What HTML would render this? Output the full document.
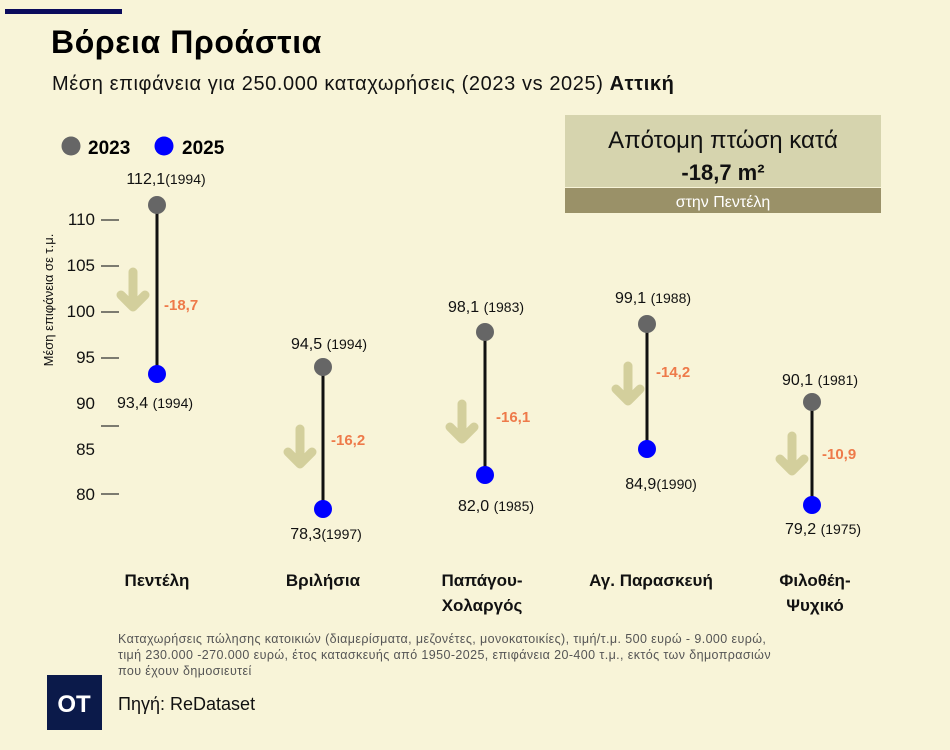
<!DOCTYPE html>
<html><head><meta charset="utf-8"><style>
body{margin:0;background:#f8f4d8;}
svg{display:block;font-family:"Liberation Sans","DejaVu Sans",sans-serif;}
</style></head><body>
<svg width="950" height="750" viewBox="0 0 950 750" xmlns="http://www.w3.org/2000/svg">
<rect width="950" height="750" fill="#f8f4d8"/>
<rect x="5" y="9" width="117" height="5" fill="#0b0b5c"/>
<text x="51" y="53" font-size="32" font-weight="bold" fill="#000" letter-spacing="0.6">Βόρεια Προάστια</text>
<text x="52" y="90" font-size="20" fill="#111" letter-spacing="0.6">Μέση επιφάνεια για 250.000 καταχωρήσεις (2023 vs 2025) <tspan font-weight="bold">Αττική</tspan></text>
<circle cx="71" cy="146" r="9.5" fill="#666"/>
<text x="88" y="154" font-size="19" font-weight="bold">2023</text>
<circle cx="164" cy="146" r="9.5" fill="#0000ff"/>
<text x="182" y="154" font-size="19" font-weight="bold">2025</text>
<rect x="565" y="115" width="316" height="72" fill="#d6d4ae"/>
<rect x="565" y="188" width="316" height="25" fill="#9a9168"/>
<text x="723" y="148" font-size="24" text-anchor="middle" fill="#111">Απότομη πτώση κατά</text>
<text x="723" y="180" font-size="22" font-weight="bold" text-anchor="middle" fill="#111">-18,7 m²</text>
<text x="723" y="207" font-size="16" text-anchor="middle" fill="#fff">στην Πεντέλη</text>
<text transform="translate(53,300) rotate(-90)" font-size="13" text-anchor="middle" fill="#111">Μέση επιφάνεια σε τ.μ.</text>
<g font-size="17" fill="#111" text-anchor="end">
<text x="95" y="225">110</text><text x="95" y="271">105</text><text x="95" y="317">100</text>
<text x="95" y="363">95</text><text x="95" y="409">90</text><text x="95" y="455">85</text><text x="95" y="500">80</text>
</g>
<g stroke="#333" stroke-width="1.2">
<line x1="101" y1="220" x2="119" y2="220"/><line x1="101" y1="266" x2="119" y2="266"/>
<line x1="101" y1="312" x2="119" y2="312"/><line x1="101" y1="358" x2="119" y2="358"/>
<line x1="101" y1="426" x2="119" y2="426"/><line x1="101" y1="494" x2="119" y2="494"/>
</g>
<g fill="none" stroke="#d3cf9c" stroke-width="9" stroke-linecap="round" stroke-linejoin="round">
<path d="M133 272 V306 M121 295 L133 307 L145 295"/>
<path d="M300 429 V463 M288 452 L300 464 L312 452"/>
<path d="M462 404 V438 M450 427 L462 439 L474 427"/>
<path d="M628 366 V400 M616 389 L628 401 L640 389"/>
<path d="M792 436 V470 M780 459 L792 471 L804 459"/>
</g>
<g stroke="#111" stroke-width="3">
<line x1="157" y1="205" x2="157" y2="374"/>
<line x1="323" y1="367" x2="323" y2="509"/>
<line x1="485" y1="332" x2="485" y2="475"/>
<line x1="647" y1="324" x2="647" y2="449"/>
<line x1="812" y1="402" x2="812" y2="505"/>
</g>
<g fill="#666">
<circle cx="157" cy="205" r="9"/><circle cx="323" cy="367" r="9"/><circle cx="485" cy="332" r="9"/><circle cx="647" cy="324" r="9"/><circle cx="812" cy="402" r="9"/>
</g>
<g fill="#0000ff">
<circle cx="157" cy="374" r="9"/><circle cx="323" cy="509" r="9"/><circle cx="485" cy="475" r="9"/><circle cx="647" cy="449" r="9"/><circle cx="812" cy="505" r="9"/>
</g>
<g font-size="15" font-weight="bold" fill="#ee7a4a">
<text x="164" y="310">-18,7</text><text x="331" y="445">-16,2</text><text x="496" y="422">-16,1</text><text x="656" y="377">-14,2</text><text x="822" y="459">-10,9</text>
</g>
<g font-size="16" fill="#111" text-anchor="middle">
<text x="166" y="184">112,1<tspan font-size="14">(1994)</tspan></text>
<text x="329" y="349">94,5 <tspan font-size="14">(1994)</tspan></text>
<text x="486" y="312">98,1 <tspan font-size="14">(1983)</tspan></text>
<text x="653" y="303">99,1 <tspan font-size="14">(1988)</tspan></text>
<text x="820" y="385">90,1 <tspan font-size="14">(1981)</tspan></text>
<text x="155" y="408">93,4 <tspan font-size="14">(1994)</tspan></text>
<text x="326" y="539">78,3<tspan font-size="14">(1997)</tspan></text>
<text x="496" y="511">82,0 <tspan font-size="14">(1985)</tspan></text>
<text x="661" y="489">84,9<tspan font-size="14">(1990)</tspan></text>
<text x="823" y="534">79,2 <tspan font-size="14">(1975)</tspan></text>
</g>
<g font-size="17" font-weight="bold" fill="#111" text-anchor="middle">
<text x="157" y="586">Πεντέλη</text>
<text x="323" y="586">Βριλήσια</text>
<text x="482" y="586">Παπάγου-</text><text x="482" y="611">Χολαργός</text>
<text x="651" y="586">Αγ. Παρασκευή</text>
<text x="815" y="586">Φιλοθέη-</text><text x="815" y="611">Ψυχικό</text>
</g>
<g font-size="12.5" fill="#555" letter-spacing="0.4">
<text x="118" y="643">Καταχωρήσεις πώλησης κατοικιών (διαμερίσματα, μεζονέτες, μονοκατοικίες), τιμή/τ.μ.  500 ευρώ - 9.000 ευρώ,</text>
<text x="118" y="659">τιμή 230.000 -270.000 ευρώ, έτος κατασκευής από 1950-2025, επιφάνεια 20-400 τ.μ., εκτός των δημοπρασιών</text>
<text x="118" y="675">που έχουν δημοσιευτεί</text>
</g>
<rect x="47" y="675" width="55" height="55" fill="#0b1a4a"/>
<text x="74" y="712" font-size="24" font-weight="bold" fill="#fff" text-anchor="middle">OT</text>
<text x="118" y="710" font-size="18" fill="#111">Πηγή: ReDataset</text>
</svg>
</body></html>
